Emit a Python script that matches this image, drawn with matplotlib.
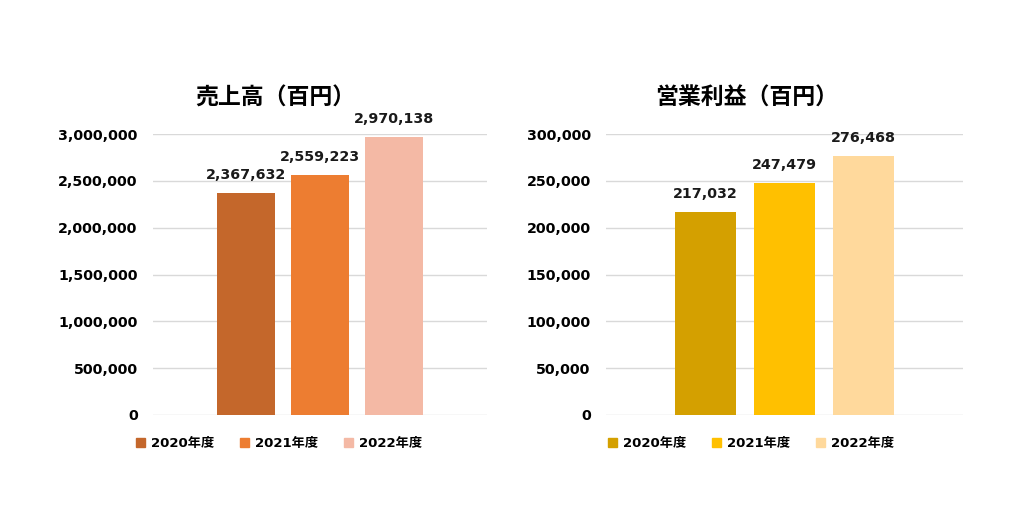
import matplotlib
matplotlib.use('Agg')
from matplotlib import pyplot as plt
from matplotlib.patches import Patch

plt.rcParams['font.family'] = ['DejaVu Sans', 'Noto Sans CJK JP']
plt.rcParams['font.weight'] = 'bold'

years = ['2020年度', '2021年度', '2022年度']
sales = [2367632, 2559223, 2970138]
profit = [217032, 247479, 276468]
sales_ticks = [0, 500000, 1000000, 1500000, 2000000, 2500000, 3000000]
profit_ticks = [0, 50000, 100000, 150000, 200000, 250000, 300000]
sales_colors = ['#C4672B', '#ED7D31', '#F4B9A5']
profit_colors = ['#D4A000', '#FFC000', '#FFD99C']

W, H = 1024, 515
fig = plt.figure(figsize=(W / 100, H / 100), dpi=100)

def px_axes(x0, x1, y0, y1):
    return fig.add_axes([x0 / W, 1 - y1 / H, (x1 - x0) / W, (y1 - y0) / H])

def draw(ax, vals, colors, ticks, width, title, tx, lx):
    xs = list(range(len(vals)))
    ax.bar(xs, vals, width=width, color=colors, zorder=3)
    ax.set_ylim(0, ticks[-1])
    ax.set_xlim(1 - 2.26, 1 + 2.26)
    ax.set_yticks(ticks)
    ax.set_yticklabels(['{:,}'.format(t) for t in ticks], fontsize=10.3, fontweight='bold')
    ax.set_xticks([])
    ax.yaxis.grid(True, color='#D9D9D9', linewidth=1, zorder=0)
    for s in ax.spines.values():
        s.set_visible(False)
    ax.tick_params(axis='y', length=0, pad=11)
    for x, v in zip(xs, vals):
        ax.annotate('{:,}'.format(v), (x, v), xytext=(0, 8), textcoords='offset points',
                    ha='center', va='bottom', fontsize=10.3, fontweight='bold', color='#1a1a1a')
    fig.text(tx / W, 1 - 98 / H, title, ha='center', va='center', fontsize=16.5,
             fontweight='bold', family=['Noto Sans CJK JP', 'DejaVu Sans'])
    handles = [Patch(color=c, label=y) for c, y in zip(colors, years)]
    fig.legend(handles=handles, loc='center', bbox_to_anchor=(lx / W, 1 - 444 / H), ncol=3,
               frameon=False, fontsize=9.5, handlelength=0.65, handleheight=0.65,
               handletextpad=0.45, columnspacing=2.0)

ax1 = px_axes(153, 487, 134, 415)
draw(ax1, sales, sales_colors, sales_ticks, 0.79, '売上高（百円）', 275, 279)

ax2 = px_axes(606, 963, 134, 415)
draw(ax2, profit, profit_colors, profit_ticks, 0.78, '営業利益（百円）', 747, 751)

fig.savefig('out.png', dpi=100)
